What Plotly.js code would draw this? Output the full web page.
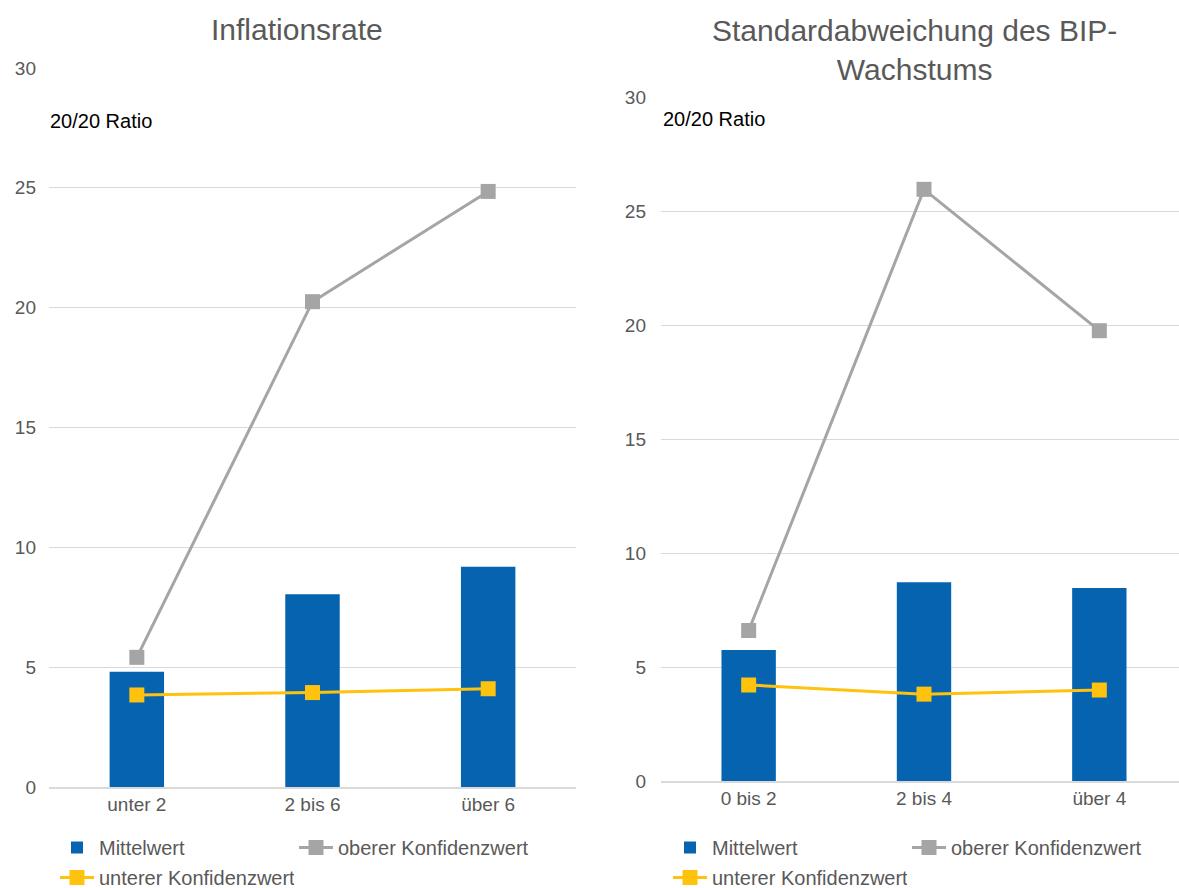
<!DOCTYPE html>
<html>
<head>
<meta charset="utf-8">
<script src="https://cdn.plot.ly/plotly-3.0.1.min.js"></script>
<style>html,body{margin:0;padding:0;overflow:hidden;background:#fff}</style>
</head>
<body>
<div id="chart"></div>
<script>
// Left panel: Inflationsrate
const catsLeft = ["unter 2", "2 bis 6", "über 6"];
const mittelLeft = [4.81, 8.04, 9.19];
const obererLeft = [5.41, 20.25, 24.85];
const untererLeft = [3.84, 3.94, 4.10];

// Right panel: Standardabweichung des BIP-Wachstums
const catsRight = ["0 bis 2", "2 bis 4", "über 4"];
const mittelRight = [5.75, 8.72, 8.46];
const obererRight = [6.60, 25.95, 19.75];
const untererRight = [4.21, 3.81, 3.99];

const yTicks = [0, 5, 10, 15, 20, 25, 30];

const seriesNames = ["Mittelwert", "oberer Konfidenzwert", "unterer Konfidenzwert"];
const titleLeft = "Inflationsrate";
const titleRight = "Standardabweichung des BIP-<br>Wachstums";
const subLabel = "20/20 Ratio";

const W = 1188, H = 897;
const blue = "#0563B0", gray = "#A5A5A5", yellow = "#FFC20E";
const textGray = "#595959";
const FONT = "Liberation Sans, Arial, sans-serif";

function traces(cats, mittel, oberer, unterer, xa, ya, legA, legB) {
  return [
    {type: "bar", x: cats, y: mittel, name: seriesNames[0], xaxis: xa, yaxis: ya, legend: legA,
     marker: {color: blue}, width: 0.31},
    {type: "scatter", mode: "lines+markers", x: cats, y: oberer, name: seriesNames[1], xaxis: xa, yaxis: ya, legend: legA,
     line: {color: gray, width: 3}, marker: {symbol: "square", size: 15, color: gray}},
    {type: "scatter", mode: "lines+markers", x: cats, y: unterer, name: seriesNames[2], xaxis: xa, yaxis: ya, legend: legB,
     line: {color: yellow, width: 3}, marker: {symbol: "square", size: 15, color: yellow}}
  ];
}

const data = [
  ...traces(catsLeft, mittelLeft, obererLeft, untererLeft, "x", "y", "legend", "legend3"),
  ...traces(catsRight, mittelRight, obererRight, untererRight, "x2", "y2", "legend2", "legend4")
];

const yaxisBase = {
  range: [0, 30], tickvals: yTicks, ticktext: yTicks.map(String),
  showgrid: true, gridcolor: "#D9D9D9", gridwidth: 1, zeroline: false,
  showline: false, ticks: "", tickfont: {size: 19, color: textGray, family: FONT},
  fixedrange: true
};
const xaxisBase = {
  type: "category", showgrid: false, zeroline: false,
  showline: true, linecolor: "#D9D9D9", linewidth: 1.5, ticks: "",
  tickfont: {size: 19, color: textGray, family: FONT}, fixedrange: true
};

const legendBase = {
  orientation: "h", xanchor: "left",
  font: {size: 20, color: textGray, family: FONT},
  entrywidth: 190, entrywidthmode: "pixels",
  bgcolor: "rgba(0,0,0,0)", itemwidth: 34
};

const layout = {
  width: W, height: H,
  margin: {l: 0, r: 0, t: 0, b: 0},
  paper_bgcolor: "#fff", plot_bgcolor: "#fff",
  font: {family: FONT, color: textGray},
  showlegend: true,
  xaxis: {...xaxisBase, domain: [49 / W, 576 / W], anchor: "y"},
  yaxis: {...yaxisBase, domain: [(H - 787) / H, (H - 68) / H], anchor: "x", ticklabelstandoff: 12},
  xaxis2: {...xaxisBase, domain: [661 / W, 1187 / W], anchor: "y2"},
  yaxis2: {...yaxisBase, domain: [(H - 781) / H, (H - 97) / H], anchor: "x2", ticklabelstandoff: 14},
  legend: {...legendBase, x: 55 / W, y: (H - 867) / H, yanchor: "bottom"},
  legend3: {...legendBase, x: 55 / W, y: 0, yanchor: "bottom"},
  legend2: {...legendBase, x: 668 / W, y: (H - 867) / H, yanchor: "bottom"},
  legend4: {...legendBase, x: 668 / W, y: 0, yanchor: "bottom"},
  annotations: [
    {text: titleLeft, xref: "paper", yref: "paper", x: 297 / W, y: (H - 29) / H,
     xanchor: "center", yanchor: "middle", showarrow: false,
     font: {size: 30, color: textGray, family: FONT}},
    {text: titleRight, xref: "paper", yref: "paper", x: 914 / W, y: (H - 50) / H,
     xanchor: "center", yanchor: "middle", showarrow: false,
     font: {size: 30, color: textGray, family: FONT}},
    {text: subLabel, xref: "paper", yref: "paper", x: 48 / W, y: (H - 121) / H,
     xanchor: "left", yanchor: "middle", showarrow: false,
     font: {size: 20, color: "#000", family: FONT}},
    {text: subLabel, xref: "paper", yref: "paper", x: 661 / W, y: (H - 119) / H,
     xanchor: "left", yanchor: "middle", showarrow: false,
     font: {size: 20, color: "#000", family: FONT}}
  ]
};

Plotly.newPlot("chart", data, layout, {displayModeBar: false, staticPlot: true});
</script>
</body>
</html>
